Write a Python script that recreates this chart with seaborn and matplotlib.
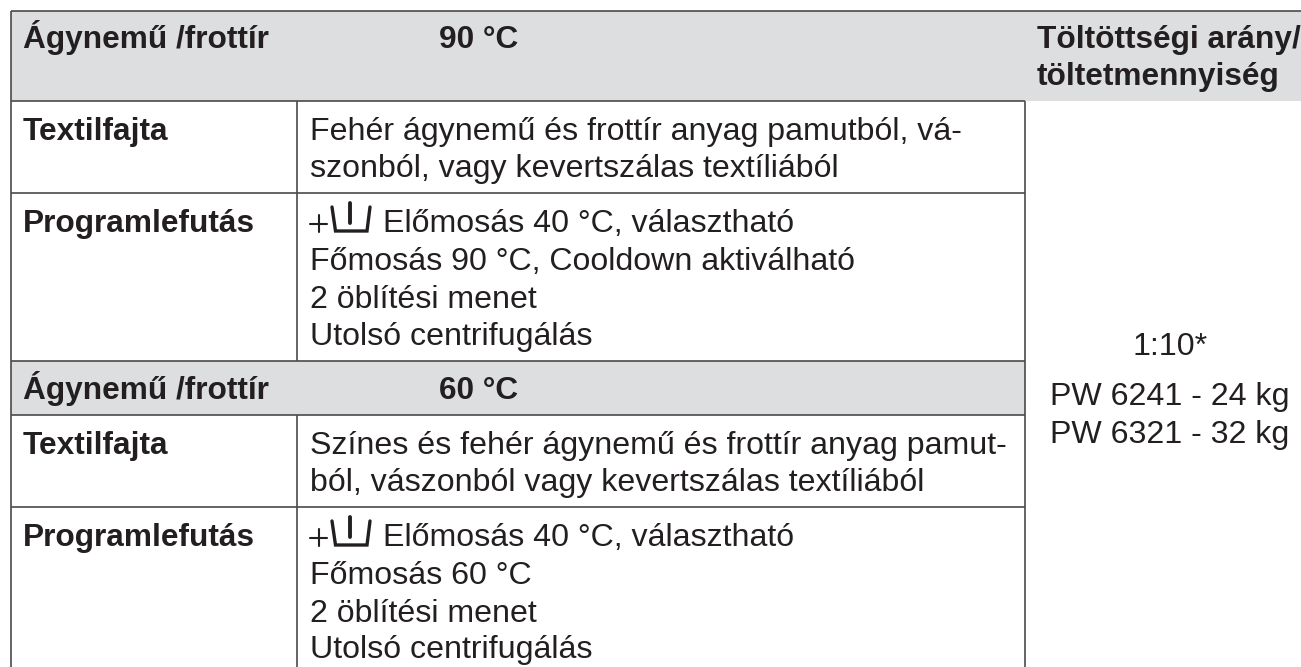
import numpy as np
import seaborn as sns
import matplotlib.pyplot as plt
from matplotlib.colors import ListedColormap

W, H = 1301, 667

# table texts
header_title = "Ágynemű /frottír"
temps = ["90 °C", "60 °C"]
row_labels = ["Textilfajta", "Programlefutás"]
textil_90 = ["Fehér ágynemű és frottír anyag pamutból, vá-",
             "szonból, vagy kevertszálas textíliából"]
textil_60 = ["Színes és fehér ágynemű és frottír anyag pamut-",
             "ból, vászonból vagy kevertszálas textíliából"]
prewash = "Előmosás 40 °C, választható"
program_90 = ["Főmosás 90 °C, Cooldown aktiválható", "2 öblítési menet", "Utolsó centrifugálás"]
program_60 = ["Főmosás 60 °C", "2 öblítési menet", "Utolsó centrifugálás"]
load_header = ["Töltöttségi arány/", "töltetmennyiség"]
load_values = ["1:10*", "PW 6241 - 24 kg", "PW 6321 - 32 kg"]

# layout in pixels
TEXT = "#231f20"
LINE = "#4a4a4a"
FILL = "#dcdee0"
SIZE = 23.1
SIZE_BOLD = 22.8

sns.set_theme(style="white")
plt.rcParams["font.family"] = ["Liberation Sans", "DejaVu Sans"]

fig = plt.figure(figsize=(W / 100, H / 100), dpi=100)
ax = fig.add_axes([0, 0, 1, 1])

# grey header bands as a one-pixel-per-cell heatmap
mask = np.zeros((H, W))
mask[11:101, 11:] = 1
mask[361:415, 11:1025] = 1
sns.heatmap(mask, ax=ax, cmap=ListedColormap(["white", FILL]), cbar=False,
            xticklabels=False, yticklabels=False, vmin=0, vmax=1)
ax.set_xlim(0, W)
ax.set_ylim(H, 0)


def txt(x, y, s, bold=False, ha="left"):
    ax.text(x, y, s, fontsize=SIZE_BOLD if bold else SIZE, color=TEXT, ha=ha, va="baseline",
            fontweight="bold" if bold else "normal")


def prewash_icon(dy):
    ax.plot([310, 327], [223.5 + dy, 223.5 + dy], color=TEXT, lw=1.5)
    ax.plot([318.5, 318.5], [215 + dy, 232 + dy], color=TEXT, lw=1.5)
    ax.plot([332, 335.5, 367, 370], [207 + dy, 231 + dy, 231 + dy, 207 + dy],
            color=TEXT, lw=2.4, solid_joinstyle="miter")
    ax.plot([350, 350], [202.5 + dy, 223 + dy], color=TEXT, lw=2.8)


# rules
ax.hlines([11], 11, 1301, color=LINE, lw=1.2)
ax.hlines([101, 192.5, 361, 415, 507], 11, 1025, color=LINE, lw=1.2)
ax.vlines(11, 11, H, color=LINE, lw=1.2)
ax.vlines(297, 101, 361, color=LINE, lw=1.2)
ax.vlines(297, 415, H, color=LINE, lw=1.2)
ax.vlines(1025, 101, H, color=LINE, lw=1.2)

# 90 °C block
txt(23, 48, header_title, bold=True)
txt(439, 48, temps[0], bold=True)
txt(23, 140, row_labels[0], bold=True)
for y, s in zip([140, 177], textil_90):
    txt(310, y, s)
txt(23, 232, row_labels[1], bold=True)
prewash_icon(0)
txt(383, 232, prewash)
for y, s in zip([270, 308, 345], program_90):
    txt(310, y, s)

# 60 °C block
txt(23, 399, header_title, bold=True)
txt(439, 399, temps[1], bold=True)
txt(23, 454, row_labels[0], bold=True)
for y, s in zip([454, 491], textil_60):
    txt(310, y, s)
txt(23, 546, row_labels[1], bold=True)
prewash_icon(314)
txt(383, 546, prewash)
for y, s in zip([584, 622, 658], program_60):
    txt(310, y, s)

# right column
for y, s in zip([48, 85], load_header):
    txt(1037, y, s, bold=True)
txt(1170, 355, load_values[0], ha="center")
txt(1170, 405, load_values[1], ha="center")
txt(1170, 443, load_values[2], ha="center")

ax.axis("off")
fig.savefig("out.png", dpi=100)
